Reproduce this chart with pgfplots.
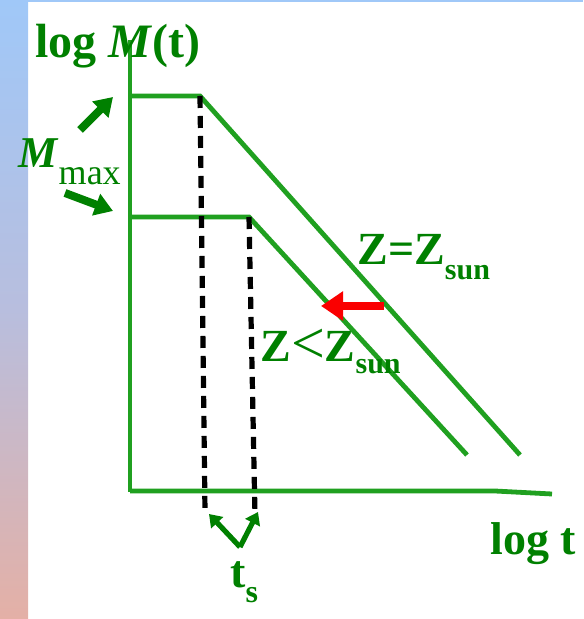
\documentclass[border=0pt]{standalone}
\usepackage{fontspec}
\setmainfont{Liberation Serif}
\usepackage{pgfplots}
\pgfplotsset{compat=1.18}
\usetikzlibrary{arrows.meta}

\definecolor{linegreen}{RGB}{32,160,32}
\definecolor{textgreen}{RGB}{0,128,0}
\definecolor{stripTop}{RGB}{160,200,248}
\definecolor{stripMid}{RGB}{184,190,222}
\definecolor{stripBot}{RGB}{228,176,166}
\definecolor{arrowred}{RGB}{250,0,0}

\newcommand{\sub}[3]{\raisebox{-#1pt}{\fontsize{#2}{#2}\selectfont #3}}

\begin{document}
\begin{tikzpicture}
\begin{axis}[
  x=0.5pt, y=0.5pt,
  xmin=0, xmax=583, ymin=0, ymax=619,
  hide axis, clip=false,
  every axis plot/.append style={no markers},
]
% background: strip on the left and line at the top
\addplot[draw=none, top color=stripTop, bottom color=stripBot, middle color=stripMid]
  coordinates {(0,0) (28,0) (28,619) (0,619)} -- cycle;
\addplot[draw=none, fill=stripTop] coordinates {(0,617) (583,617) (583,619) (0,619)} -- cycle;

% axes
\addplot[linegreen, line width=2.4pt] coordinates {(130,579) (130,127)};
\addplot[linegreen, line width=2.4pt] coordinates {(130,128) (495,128) (552,125)};

% tracks
\addplot[linegreen, line width=2.4pt] coordinates {(130,523) (200,523) (520,164)};
\addplot[linegreen, line width=2.4pt] coordinates {(130,402) (249,402) (467,164)};

% t_s markers
\addplot[black, line width=2.6pt, dash pattern=on 6pt off 4pt] coordinates {(200,523) (205,107)};
\addplot[black, line width=2.6pt, dash pattern=on 6pt off 4pt] coordinates {(249,402) (255,103)};

% arrows
\addplot[textgreen, line width=4pt, -{Triangle[length=9pt,width=11pt]}] coordinates {(80,489) (113,522)};
\addplot[textgreen, line width=4pt, -{Triangle[length=9pt,width=11pt]}] coordinates {(65,426) (113,408)};
\addplot[textgreen, line width=2.6pt, -{Triangle[length=6pt,width=8pt]}] coordinates {(240,72) (209,105)};
\addplot[textgreen, line width=2.6pt, -{Triangle[length=6pt,width=8pt]}] coordinates {(240,72) (258,107)};
\addplot[arrowred, line width=3.8pt, -{Triangle[length=11pt,width=14pt]}] coordinates {(384,313) (321,313)};

% labels
\node[anchor=base west, inner sep=0pt, text=textgreen, font=\fontsize{24}{24}\selectfont\bfseries]
  at (axis cs:35,561) {log \textit{M}(t)};
\node[anchor=base west, inner sep=0pt, text=textgreen, font=\fontsize{22}{22}\selectfont]
  at (axis cs:18,451) {\textbf{\textit{M}}\sub{8.5}{18}{max}};
\node[anchor=base west, inner sep=0pt, text=textgreen, font=\fontsize{23}{23}\selectfont\bfseries]
  at (axis cs:357,354) {Z=Z\sub{7.5}{15}{sun}};
\node[anchor=base west, inner sep=0pt, text=textgreen, font=\fontsize{23}{23}\selectfont\bfseries]
  at (axis cs:260,257) {Z{\mdseries\fontsize{30}{30}\selectfont\raisebox{-1pt}{<}}Z\sub{6}{15}{sun}};
\node[anchor=base west, inner sep=0pt, text=textgreen, font=\fontsize{23}{23}\selectfont\bfseries]
  at (axis cs:230,32) {t\sub{7.5}{16}{s}};
\node[anchor=base west, inner sep=0pt, text=textgreen, font=\fontsize{23}{23}\selectfont\bfseries]
  at (axis cs:490,64) {log t};
\end{axis}
\end{tikzpicture}
\end{document}
